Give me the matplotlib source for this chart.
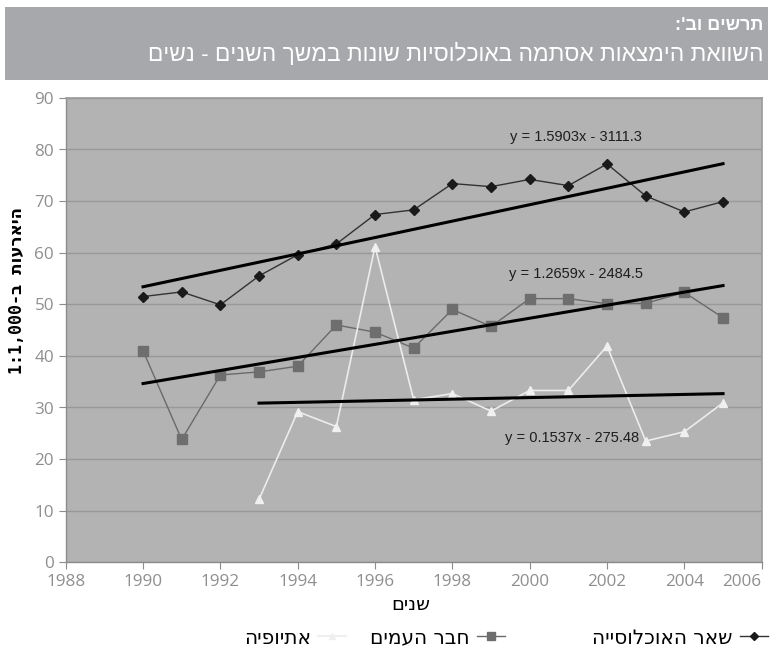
import matplotlib
matplotlib.use("Agg")
import matplotlib.pyplot as plt
from matplotlib.patches import Rectangle
from matplotlib.lines import Line2D
import numpy as np

# ---------------- data ----------------
years_all = [1990, 1991, 1992, 1993, 1994, 1995, 1996, 1997, 1998, 1999,
             2000, 2001, 2002, 2003, 2004, 2005]
rest_pop = [51.5, 52.4, 49.9, 55.5, 59.6, 61.7, 67.4, 68.3, 73.4, 72.8,
            74.2, 73.0, 77.2, 71.0, 67.9, 69.9]
fsu = [41.0, 23.8, 36.3, 36.9, 38.0, 46.0, 44.6, 41.5, 49.0, 45.7,
       51.1, 51.1, 50.1, 50.2, 52.3, 47.4]
years_eth = [1993, 1994, 1995, 1996, 1997, 1998, 1999, 2000, 2001, 2002,
             2003, 2004, 2005]
ethiopia = [12.2, 29.2, 26.3, 61.2, 31.5, 32.7, 29.3, 33.3, 33.3, 41.9,
            23.5, 25.3, 30.9]

trend_slopes = [1.5903, 1.2659, 0.1537]
trend_intercepts = [-3111.3, -2484.5, -275.48]
trend_labels = ["y = 1.5903x - 3111.3", "y = 1.2659x - 2484.5", "y = 0.1537x - 275.48"]

series_names = ["שאר האוכלוסייה", "חבר העמים", "אתיופיה"]
title1 = "תרשים וב':"
title2 = "השוואת הימצאות אסתמה באוכלוסיות שונות במשך השנים - נשים"
xlabel = "שנים"
ylabel_visual = "1:1,000-ב " + "היארעות"[::-1]

xticks = list(range(1988, 2007, 2))
yticks = list(range(0, 91, 10))


def vis(s):
    """logical Hebrew -> visual order (no bidi in matplotlib)"""
    return s[::-1]


# ---------------- figure ----------------
W, H = 773, 663
fig = plt.figure(figsize=(W / 100, H / 100), dpi=100)

# header band
fig.patches.append(Rectangle((5 / W, 1 - 80 / H), 763 / W, 73 / H,
                             transform=fig.transFigure, facecolor="#a7a8ab",
                             edgecolor="none", zorder=0))
hfont = ["Liberation Sans", "DejaVu Sans"]
fig.text(763 / W, 1 - 26 / H, vis(title1), ha="right", va="center",
         fontsize=13, fontweight="bold", color="white", family=hfont)
fig.text(763 / W, 1 - 54.5 / H, vis(title2), ha="right", va="center",
         fontsize=16.4, color="white", family=hfont)

ax = fig.add_axes([65.7 / W, 1 - 562.3 / H, 696 / W, (562.3 - 97.9) / H])
ax.set_facecolor("#b3b3b3")
ax.set_xlim(1988, 2006)
ax.set_ylim(0, 90)
ax.set_xticks(xticks)
ax.set_yticks(yticks)
ax.grid(axis="y", color="#999999", linewidth=1.0)
ax.set_axisbelow(True)
for side in ["top", "right"]:
    ax.spines[side].set_color("#9a9a9a")
    ax.spines[side].set_linewidth(1.2)
for side in ["left", "bottom"]:
    ax.spines[side].set_color("#8c8c8c")
    ax.spines[side].set_linewidth(1.0)
ax.tick_params(axis="both", colors="#8c8c8c", labelcolor="#8f8f8f",
               labelsize=12.3, length=5, direction="out")
for lab in ax.get_xticklabels() + ax.get_yticklabels():
    lab.set_family(["Open Sans", "DejaVu Sans"])
ax.get_xticklabels()[-1].set_horizontalalignment("right")

# data series
ax.plot(years_all, rest_pop, color="#333333", linewidth=1.0, marker="D",
        markersize=5, markerfacecolor="#1a1a1a", markeredgecolor="#1a1a1a", zorder=4)
ax.plot(years_all, fsu, color="#6a6a6a", linewidth=1.0, marker="s",
        markersize=6.5, markerfacecolor="#6e6e6e", markeredgecolor="#6e6e6e", zorder=4)
ax.plot(years_eth, ethiopia, color="#ececec", linewidth=1.2, marker="^",
        markersize=5.5, markerfacecolor="#f0f0f0", markeredgecolor="#f0f0f0", zorder=4)

# trend lines
ranges = [years_all, years_all, years_eth]
for slope, icpt, yrs in zip(trend_slopes, trend_intercepts, ranges):
    xs = np.array([yrs[0], yrs[-1]], dtype=float)
    ax.plot(xs, slope * xs + icpt, color="black", linewidth=2.2, zorder=5)

eq_pos = [(2001.2, 82.5), (2001.2, 55.9), (2001.1, 24.1)]
for (xp, yp), lab in zip(eq_pos, trend_labels):
    ax.text(xp, yp, lab, ha="center", va="center", fontsize=10.5,
            color="#1e1e1e", family=["Liberation Sans", "DejaVu Sans"], zorder=6)

# axis labels
fig.text(411 / W, 1 - 604 / H, vis(xlabel), ha="center", va="center",
         fontsize=14, color="black", family=["DejaVu Sans"])
fig.text(17 / W, 1 - 290 / H, ylabel_visual, ha="center", va="center",
         rotation=90, fontsize=12, fontweight="bold", color="black",
         family=["DejaVu Sans Mono", "DejaVu Sans"])

# legend (RTL: marker after text), one entry per legend placed right-to-left
handles = [
    Line2D([], [], color="#333333", linewidth=1.0, marker="D", markersize=4.5,
           markerfacecolor="#1a1a1a", markeredgecolor="#1a1a1a"),
    Line2D([], [], color="#6a6a6a", linewidth=1.0, marker="s", markersize=6,
           markerfacecolor="#6e6e6e", markeredgecolor="#6e6e6e"),
    Line2D([], [], color="#ececec", linewidth=1.2, marker="^", markersize=5,
           markerfacecolor="#f0f0f0", markeredgecolor="#f0f0f0"),
]
right_edges = [768, 505, 346]
for h, name, rx in zip(handles, series_names, right_edges):
    fig.legend([h], [vis(name)], loc="center right",
               bbox_to_anchor=(rx / W, 1 - 638 / H),
               markerfirst=False, frameon=False, handlelength=1.4,
               handletextpad=0.35, borderpad=0, borderaxespad=0,
               prop={"family": ["DejaVu Sans"], "size": 14.5})

fig.savefig("out.png", dpi=100, facecolor="white")
